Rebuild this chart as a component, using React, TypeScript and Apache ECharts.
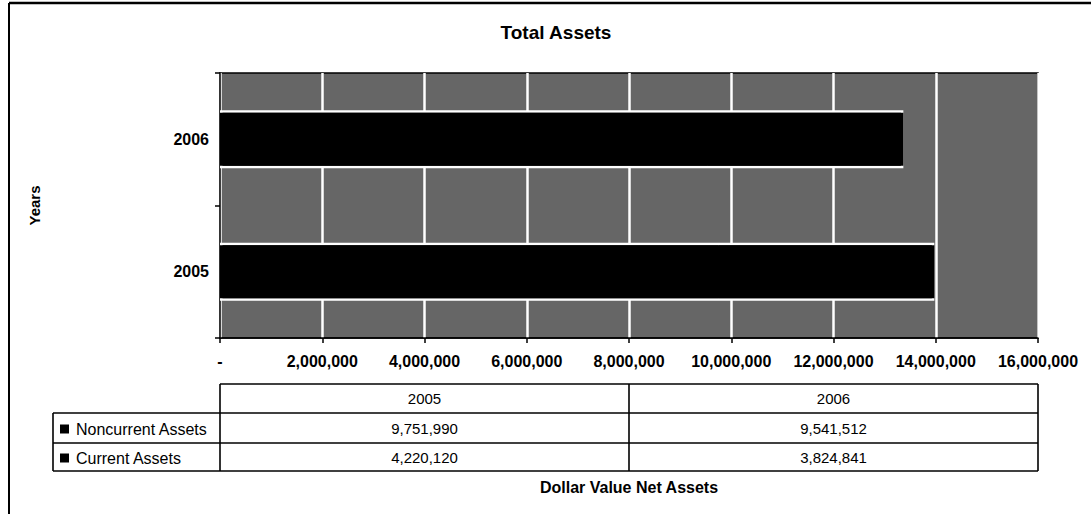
import React, { useEffect, useRef } from "react";
import * as echarts from "echarts";

const years = ["2005", "2006"];
const seriesNames = ["Noncurrent Assets", "Current Assets"];
const noncurrent = [9751990, 9541512];
const current = [4220120, 3824841];
const xTicks = [0, 2000000, 4000000, 6000000, 8000000, 10000000, 12000000, 14000000, 16000000];

const FONT = "'Liberation Sans', Arial, sans-serif";
const fmt = (v: number) => (v === 0 ? "-" : v.toLocaleString("en-US"));

export default function App() {
  const ref = useRef<HTMLDivElement>(null);
  useEffect(() => {
    if (!ref.current) return;
    const chart = echarts.init(ref.current, undefined, { renderer: "svg" });

    const gridL = 220, gridR = 1038, gridT = 73, gridB = 338;
    const mid = (gridL + gridR) / 2;
    const tblL = 53;
    const rowsY = [384, 413, 443, 471];
    const lineStyle = { stroke: "#000", lineWidth: 1.6 };
    const g: any[] = [];
    const hl = (x1: number, x2: number, y: number) =>
      g.push({ type: "line", shape: { x1, y1: y, x2, y2: y }, style: lineStyle });
    const vl = (x: number, y1: number, y2: number) =>
      g.push({ type: "line", shape: { x1: x, y1, x2: x, y2 }, style: lineStyle });
    // outer frame
    g.push({ type: "line", shape: { x1: 9, y1: 3, x2: 1091, y2: 3 }, style: { stroke: "#000", lineWidth: 2.5 } });
    g.push({ type: "line", shape: { x1: 9, y1: 3, x2: 9, y2: 514 }, style: { stroke: "#000", lineWidth: 2 } });
    // data table
    hl(gridL, gridR, rowsY[0]);
    hl(tblL, gridR, rowsY[1]);
    hl(tblL, gridR, rowsY[2]);
    hl(tblL, gridR, rowsY[3]);
    vl(tblL, rowsY[1], rowsY[3]);
    vl(gridL, rowsY[0], rowsY[3]);
    vl(mid, rowsY[0], rowsY[3]);
    vl(gridR, rowsY[0], rowsY[3]);
    const colCenters = [(gridL + mid) / 2, (mid + gridR) / 2];
    years.forEach((y, i) => {
      g.push({
        type: "text",
        x: colCenters[i],
        y: (rowsY[0] + rowsY[1]) / 2,
        style: { text: y, font: `15px ${FONT}`, fill: "#000", align: "center", verticalAlign: "middle" },
      });
    });
    const rowsData = [noncurrent, current];
    seriesNames.forEach((name, r) => {
      const cy = (rowsY[r + 1] + rowsY[r + 2]) / 2;
      g.push({ type: "rect", shape: { x: 60, y: cy - 3.5, width: 9, height: 9 }, style: { fill: "#000" } });
      g.push({
        type: "text",
        x: 76,
        y: cy + 1,
        style: { text: name, font: `16px ${FONT}`, fill: "#000", align: "left", verticalAlign: "middle" },
      });
      rowsData[r].forEach((v, c) => {
        g.push({
          type: "text",
          x: colCenters[c],
          y: cy,
          style: { text: fmt(v), font: `15px ${FONT}`, fill: "#000", align: "center", verticalAlign: "middle" },
        });
      });
    });

    const totals = years.map((_, i) => noncurrent[i] + current[i]);

    chart.setOption({
      animation: false,
      backgroundColor: "#fff",
      textStyle: { fontFamily: FONT },
      title: {
        text: "Total Assets",
        left: 551,
        top: 18,
        textAlign: "center",
        textStyle: { fontFamily: FONT, fontSize: 19, fontWeight: "bold", color: "#000" },
      },
      grid: {
        left: gridL,
        right: 1091 - gridR,
        top: gridT,
        bottom: 514 - gridB,
        show: true,
        backgroundColor: "#666666",
        borderColor: "#000",
        borderWidth: 1.5,
      },
      xAxis: {
        type: "value",
        min: xTicks[0],
        max: xTicks[xTicks.length - 1],
        interval: xTicks[1] - xTicks[0],
        name: "Dollar Value Net Assets",
        nameLocation: "middle",
        nameGap: 141,
        nameTextStyle: { fontFamily: FONT, fontSize: 16, fontWeight: "bold", color: "#000" },
        axisLine: { show: true, lineStyle: { color: "#000", width: 1.5 } },
        axisTick: { show: true, length: 5, lineStyle: { color: "#000", width: 1.5 } },
        axisLabel: {
          formatter: (v: number) => fmt(v),
          fontFamily: FONT,
          fontSize: 16,
          fontWeight: "bold",
          color: "#000",
          margin: 15,
          showMinLabel: true,
          showMaxLabel: true,
        },
        splitLine: { show: true, lineStyle: { color: "#fff", width: 2.5 } },
      },
      yAxis: [
        {
          type: "category",
          data: years,
          name: "Years",
          nameLocation: "middle",
          nameRotate: 90,
          nameGap: 178,
          nameTextStyle: { fontFamily: FONT, fontSize: 15, fontWeight: "bold", color: "#000" },
          axisLine: { show: true, lineStyle: { color: "#000", width: 1.5 } },
          axisTick: { show: true, length: 5, lineStyle: { color: "#000", width: 1.5 } },
          axisLabel: { fontFamily: FONT, fontSize: 16, fontWeight: "bold", color: "#000", margin: 11 },
          splitLine: { show: false },
        },
        {
          type: "category",
          data: years,
          position: "left",
          show: false,
        },
      ],
      series: [
        {
          name: "Total",
          type: "bar",
          yAxisIndex: 1,
          data: totals,
          barWidth: 58,
          silent: true,
          z: 1,
          itemStyle: { color: "#000", borderColor: "#fff", borderWidth: 2.5 },
        },
        {
          name: seriesNames[0],
          type: "bar",
          stack: "total",
          data: noncurrent,
          barWidth: 53,
          z: 2,
          itemStyle: { color: "#000" },
        },
        {
          name: seriesNames[1],
          type: "bar",
          stack: "total",
          data: current,
          barWidth: 53,
          z: 2,
          itemStyle: { color: "#000" },
        },
      ],
      graphic: { elements: g },
    });
    return () => chart.dispose();
  }, []);
  return (
    <div
      ref={ref}
      style={{ position: "fixed", left: 0, top: 0, width: 1091, height: 514, background: "#fff" }}
    />
  );
}
